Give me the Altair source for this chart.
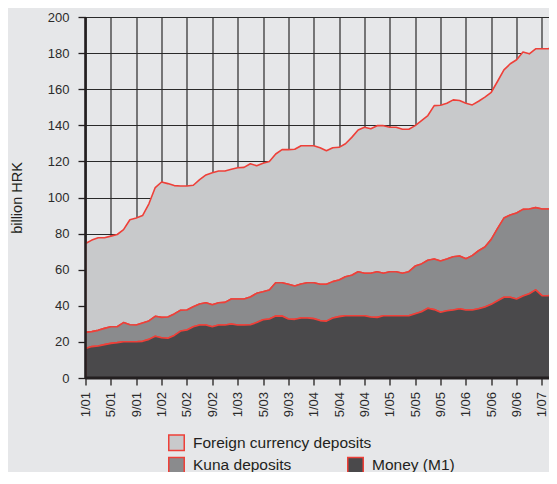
import altair as alt
import pandas as pd

# monthly labels Jan 2001 .. Mar 2007
months = [f"{m % 12 + 1}/{m // 12 + 1:02d}" for m in range(75)]
tick_labels = months[::4]

# boundary levels (billion HRK)
money_m1 = [16.4, 17.4, 17.7, 18.5, 19.2, 19.6, 20.1, 20.1, 20.1, 20.3,
            21.4, 23.1, 22.3, 22.0, 23.6, 26.0, 26.6, 28.4, 29.4, 29.4,
            28.4, 29.4, 29.4, 29.9, 29.4, 29.4, 29.5, 30.7, 32.3, 32.7,
            34.3, 34.3, 32.7, 32.5, 33.2, 33.2, 32.9, 31.8, 31.5, 33.2,
            34.0, 34.5, 34.5, 34.5, 34.5, 33.8, 33.6, 34.5, 34.5, 34.5,
            34.5, 34.5, 35.6, 36.7, 38.6, 37.9, 36.4, 37.3, 37.7, 38.4,
            37.7, 37.7, 38.4, 39.3, 40.8, 42.8, 44.7, 44.7, 43.8, 45.4,
            46.7, 48.8, 45.6, 45.6, 46.5]
m1_plus_kuna = [25.3, 25.7, 26.4, 27.5, 28.4, 28.4, 30.7, 29.5, 29.4, 30.5,
                31.6, 34.2, 33.6, 33.8, 35.5, 37.5, 37.7, 39.5, 41.0, 41.7,
                40.6, 41.7, 41.9, 43.8, 43.8, 43.8, 44.9, 46.9, 47.8, 48.8,
                52.8, 52.8, 51.9, 51.0, 52.1, 52.8, 52.8, 51.9, 51.9, 53.4,
                54.3, 56.1, 56.9, 58.9, 58.0, 58.0, 58.9, 58.0, 58.9, 58.9,
                58.0, 58.9, 62.0, 63.2, 65.2, 65.9, 64.8, 65.9, 67.2, 67.6,
                66.1, 67.8, 70.5, 72.6, 76.8, 82.9, 88.6, 90.3, 91.4, 93.4,
                93.6, 94.4, 93.6, 93.6, 94.0]
total_level = [74.5, 76.4, 77.7, 77.7, 78.6, 79.5, 82.2, 87.7, 88.6, 90.0,
               96.5, 105.5, 108.6, 107.7, 106.6, 106.4, 106.4, 106.8, 109.9, 112.5,
               113.7, 114.7, 114.7, 115.6, 116.5, 116.7, 118.7, 117.6, 119.0, 120.0,
               124.1, 126.5, 126.5, 126.7, 128.7, 128.7, 128.7, 127.6, 125.9, 127.6,
               127.8, 129.8, 133.3, 137.4, 138.9, 138.1, 139.8, 139.8, 138.9, 138.9,
               137.8, 137.8, 139.8, 142.6, 145.4, 150.9, 151.1, 152.2, 154.1, 153.7,
               152.2, 151.3, 153.3, 155.6, 158.3, 164.4, 170.7, 174.1, 176.3, 180.6,
               179.6, 182.4, 182.4, 182.4, 184.0]

series_names = ["Foreign currency deposits", "Kuna deposits", "Money (M1)"]
fills = ["#c8c9cb", "#8a8b8d", "#4a494b"]
RED = "#ee4039"
INK = "#231f20"
BG = "#e6e7e9"

foreign_rows = [dict(idx=i, month=m, top=total_level[i], bottom=m1_plus_kuna[i],
                     s1=series_names[0]) for i, m in enumerate(months)]
lower_rows = []
for i, m in enumerate(months):
    lower_rows.append(dict(idx=i, month=m, top=m1_plus_kuna[i], bottom=money_m1[i], s2=series_names[1]))
    lower_rows.append(dict(idx=i, month=m, top=money_m1[i], bottom=0.0, s2=series_names[2]))
fdf = pd.DataFrame(foreign_rows)
ldf = pd.DataFrame(lower_rows)

PAD_L = 77.5
PLOT_W = 541 - PAD_L
PLOT_H = 361
MONTH_PX = 6.34
x_max = PLOT_W / MONTH_PX

label_expr = "[" + ",".join(f"'{t}'" for t in tick_labels) + "][round(datum.value/4)]"

x_enc = alt.X("idx:Q",
              scale=alt.Scale(domain=[0, x_max], nice=False, zero=False),
              axis=alt.Axis(values=list(range(0, 73, 4)), labelExpr=label_expr, title=None,
                            grid=True, labelAngle=270, labelAlign="right", labelBaseline="middle",
                            labelPadding=6.5, tickSize=7, labelOverlap=False))
y_enc = alt.Y("top:Q", stack=None,
              scale=alt.Scale(domain=[0, 200], nice=False),
              axis=alt.Axis(values=list(range(0, 201, 20)), title="billion HRK", grid=True,
                            tickSize=7.5, labelPadding=9, labelOverlap=False, titleFontSize=14.5,
                            titleFontWeight="normal", titleColor=INK, titleX=-68, titleY=180.5,
                            titleAngle=270, titleAlign="center", titleBaseline="middle"))

legend_common = dict(title=None, orient="none", symbolType="square", symbolSize=240,
                     symbolStrokeColor=RED, symbolStrokeWidth=1.5, labelFontSize=15.5,
                     labelColor=INK, labelOffset=8, padding=0, labelFont="Liberation Sans",
                     labelLimit=400)

foreign = alt.Chart(fdf).mark_area(opacity=1, stroke=RED, strokeWidth=1.6, strokeJoin="round",
                                   clip=True).encode(
    x=x_enc, y=y_enc, y2="bottom:Q",
    fill=alt.Fill("s1:N", scale=alt.Scale(domain=series_names[:1], range=fills[:1]),
                  legend=alt.Legend(legendX=82.5, legendY=417.25, **legend_common)))

lower = alt.Chart(ldf).mark_area(opacity=1, stroke=RED, strokeWidth=1.6, strokeJoin="round",
                                 clip=True).encode(
    x=x_enc, y=y_enc, y2="bottom:Q",
    fill=alt.Fill("s2:N", scale=alt.Scale(domain=series_names[1:], range=fills[1:]),
                  legend=alt.Legend(legendX=82.5, legendY=439.25, direction="horizontal",
                                    columnPadding=52, **legend_common)))

frame_df = pd.DataFrame({"k": [0]})
left_line = alt.Chart(frame_df).mark_rule(color=INK, strokeWidth=2.6).encode(
    x=alt.value(0), y=alt.value(0), y2=alt.value(PLOT_H))
bottom_line = alt.Chart(frame_df).mark_rule(color=INK, strokeWidth=3).encode(
    y=alt.value(PLOT_H), x=alt.value(0), x2=alt.value(PLOT_W))

chart = alt.layer(foreign, lower, left_line, bottom_line).resolve_scale(
    fill="independent"
).properties(
    width=PLOT_W, height=PLOT_H,
    autosize=alt.AutoSizeParams(type="none"),
    padding={"left": PAD_L, "top": 9, "right": 0, "bottom": 94},
    background=BG,
    usermeta={"embedOptions": {"defaultStyle": "body{background:#e6e7e9;}"}},
).configure_view(strokeWidth=0).configure_axis(
    gridColor="#2a2a2a", gridWidth=1.2, domain=False, tickColor=INK, tickWidth=1.3,
    labelColor="#2b2b2b", labelFont="Liberation Sans", labelFontSize=13,
    titleFont="Liberation Sans"
)

chart.save("out.html", embed_options={"renderer": "svg", "actions": False})
